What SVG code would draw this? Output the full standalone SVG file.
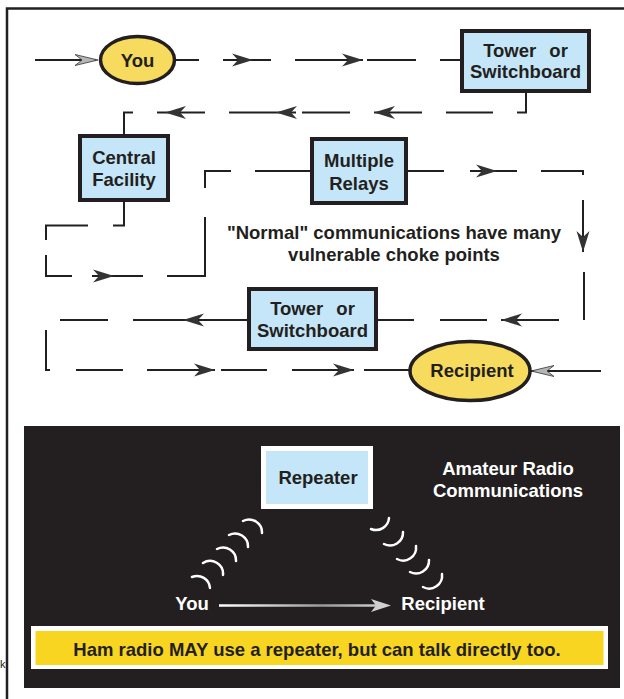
<svg xmlns="http://www.w3.org/2000/svg" xmlns:xlink="http://www.w3.org/1999/xlink" width="624" height="699" viewBox="0 0 624 699">
<defs>
<style>
.t{font-family:"Liberation Sans",Arial,Helvetica,sans-serif;font-weight:bold;font-size:18.5px;fill:#231F20;text-anchor:middle}
.w{fill:#ffffff}
.box{fill:#C5E6F8;stroke:#231F20;stroke-width:4}
.ell{fill:#F6DB5E;stroke:#231F20;stroke-width:3.5}
.ln{fill:none;stroke:#231F20;stroke-width:2}
.arc{fill:none;stroke:#ffffff;stroke-width:2.5;stroke-linecap:round}
</style>
<path id="ah" d="M0,0 L-21,-6.5 L-15,0 L-21,6.5 Z" fill="#333333"/>
<path id="oa" d="M0,0 L-23,-5.5 L-16,0 L-23,5.5 Z" fill="#b5b5b5" stroke="#333" stroke-width="0.8"/>
<linearGradient id="g" gradientUnits="userSpaceOnUse" x1="219" y1="0" x2="391" y2="0">
<stop offset="0" stop-color="#ffffff"/>
<stop offset="0.6" stop-color="#9a9a9a"/>
<stop offset="1" stop-color="#d8d8d8"/>
</linearGradient>
</defs>
<rect width="624" height="699" fill="#ffffff"/>
<path d="M7,699 L7,8.5 L624,8.5" fill="none" stroke="#231F20" stroke-width="2.5"/>
<text x="0" y="668" style="font-family:'Liberation Sans',Arial,sans-serif;font-size:11px;fill:#231F20">k</text>

<g id="connectors">
<path class="ln" d="M35,60 L96,60 M175,60 L199,60 M223,60 L271,60 M295,60 L363,60 M367,60 L416,60 M440,60 L462,60
M526,90 L526,112.5 L517,112.5 M446,112.5 L493,112.5 M374,112.5 L422,112.5 M302,112.5 L350,112.5 M229,112.5 L296,112.5 M157,112.5 L205,112.5 M133,112.5 L124,112.5 L124,135
M124,200 L124,225.5 L113,225.5 M88,225.5 L46,225.5 L46,240 M46,255 L46,276 L72,276 M92,276 L143,276 M167,276 L205,276 L205,217 M205,188 L205,171 L231,171 M255,171 L312,171 M406,171 L444,171 M470,171 L517,171 M541,171 L583,171 L583,175 M583,200 L583,252 M584,272 L584,320
M559,320 L501,320 M487,320 L440,320 M414,320 L376,320 M249,320 L133,320 M108,320 L60,320 M46,330 L46,370 L50,370 M76,370 L123,370 M147,370 L215,370 M221,370 L267,370 M292,370 L354,370 M364,370 L410,370 M601,371 L531,371"/>
<use xlink:href="#oa" transform="translate(98,60)"/>
<use xlink:href="#ah" transform="translate(253,60)"/>
<use xlink:href="#ah" transform="translate(363,60)"/>
<use xlink:href="#ah" transform="translate(374,112.5) rotate(180)"/>
<use xlink:href="#ah" transform="translate(276,112.5) rotate(180)"/>
<use xlink:href="#ah" transform="translate(165,112.5) rotate(180)"/>
<use xlink:href="#ah" transform="translate(114,276)"/>
<use xlink:href="#ah" transform="translate(497,171)"/>
<use xlink:href="#ah" transform="translate(583,252) rotate(90)"/>
<use xlink:href="#ah" transform="translate(501,320) rotate(180)"/>
<use xlink:href="#ah" transform="translate(183,320) rotate(180)"/>
<use xlink:href="#ah" transform="translate(215,370)"/>
<use xlink:href="#ah" transform="translate(354,370)"/>
<use xlink:href="#oa" transform="translate(531,371) rotate(180)"/>
</g>

<g id="you">
<ellipse class="ell" cx="137.5" cy="60" rx="37" ry="23.5"/>
<text class="t" x="137.5" y="67">You</text>
</g>
<g id="tower1">
<rect class="box" x="462" y="31" width="127" height="60"/>
<text class="t" x="525.5" y="57" word-spacing="8">Tower or</text>
<text class="t" x="525.5" y="78">Switchboard</text>
</g>
<g id="central">
<rect class="box" x="80" y="136" width="88" height="64"/>
<text class="t" x="124" y="164">Central</text>
<text class="t" x="124" y="186">Facility</text>
</g>
<g id="relays">
<rect class="box" x="312" y="139" width="94" height="64"/>
<text class="t" x="359" y="167">Multiple</text>
<text class="t" x="359" y="190">Relays</text>
</g>
<g id="note">
<text class="t" x="394" y="239">"Normal" communications have many</text>
<text class="t" x="394" y="261">vulnerable choke points</text>
</g>
<g id="tower2">
<rect class="box" x="249" y="289" width="127" height="60"/>
<text class="t" x="312.5" y="315" word-spacing="8">Tower or</text>
<text class="t" x="312.5" y="337">Switchboard</text>
</g>
<g id="recipient">
<ellipse class="ell" cx="470" cy="371" rx="60" ry="29.5"/>
<text class="t" x="472" y="377">Recipient</text>
</g>

<g id="panel">
<rect x="24" y="426" width="596" height="262" fill="#231F20"/>
</g>
<g id="repeater">
<rect x="261" y="446" width="112" height="63" fill="#ffffff"/>
<rect x="266" y="451" width="102" height="53" fill="#C5E6F8"/>
<text class="t" x="318" y="484">Repeater</text>
</g>
<g id="title">
<text class="t w" x="508" y="475">Amateur Radio</text>
<text class="t w" x="508" y="497">Communications</text>
</g>
<g id="waves">
<path class="arc" d="M192,577 A13,13 0 0 1 210,588 M203,563 A13,13 0 0 1 223,575 M217,549 A13,13 0 0 1 236,561 M229,535 A13,13 0 0 1 248,547 M243,521 A13,13 0 0 1 262,533"/>
<path class="arc" d="M389,518 A13,13 0 0 1 371,529 M403,532 A13,13 0 0 1 384,544 M416,546 A13,13 0 0 1 397,559 M429,560 A13,13 0 0 1 410,572 M442,574 A13,13 0 0 1 423,587"/>
</g>
<g id="you2">
<text class="t w" x="192" y="610">You</text>
</g>
<g id="direct">
<path d="M219,605.5 L378,605.5" stroke="url(#g)" stroke-width="2.5" fill="none"/>
<path d="M391,605.5 L371,599 L376,605.5 L371,612 Z" fill="#d0d0d0"/>
</g>
<g id="recipient2">
<text class="t w" x="443" y="610">Recipient</text>
</g>
<g id="banner">
<rect x="31" y="626" width="577" height="43" fill="#ffffff"/>
<rect x="35.5" y="631" width="568" height="34" fill="#F8D520"/>
<text class="t" x="317" y="656">Ham radio MAY use a repeater, but can talk directly too.</text>
</g>
</svg>
